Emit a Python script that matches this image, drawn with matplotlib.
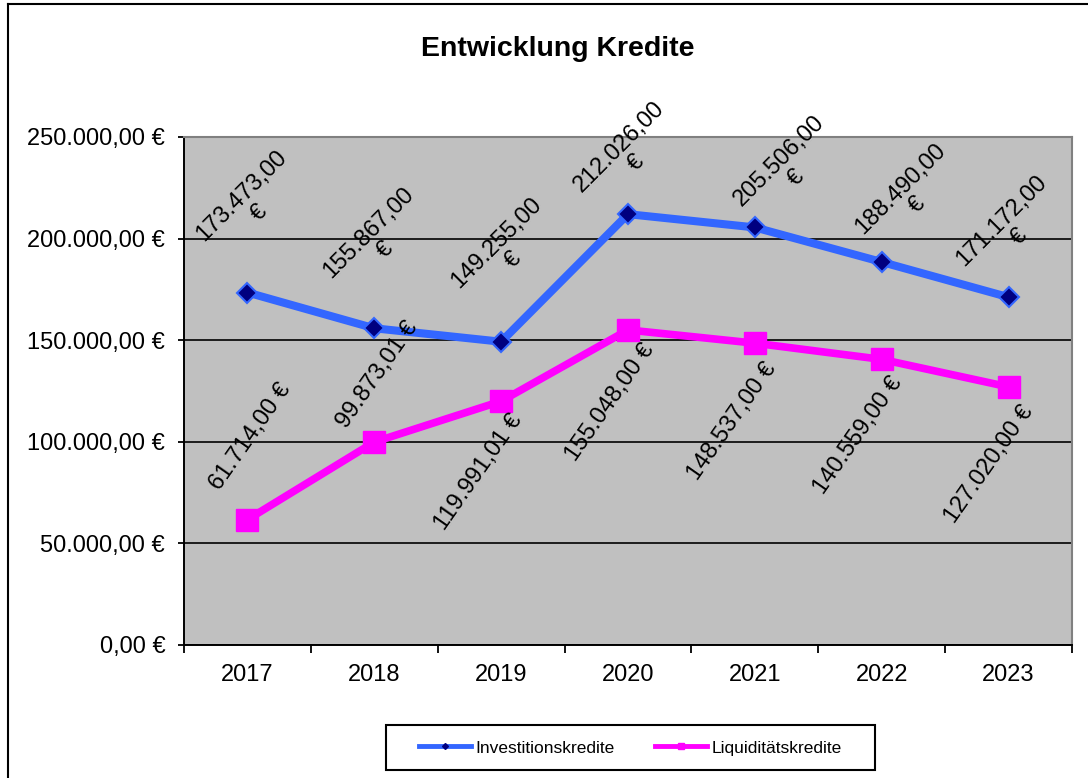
import matplotlib
matplotlib.use('Agg')
import matplotlib.pyplot as plt
from matplotlib.ticker import FuncFormatter, FixedLocator
from matplotlib.lines import Line2D
from matplotlib.patches import Rectangle

# ---- data ----
years = ['2017', '2018', '2019', '2020', '2021', '2022', '2023']
investitionskredite = [173473.00, 155867.00, 149255.00, 212026.00, 205506.00, 188490.00, 171172.00]
liquiditaetskredite = [61714.00, 99873.01, 119991.01, 155048.00, 148537.00, 140559.00, 127020.00]
series_names = ['Investitionskredite', 'Liquiditätskredite']
title = 'Entwicklung Kredite'
y_ticks = [0, 50000, 100000, 150000, 200000, 250000]

# label offsets (pixels) - style only
blue_offsets = [(3, 88), (3, 87), (4, 90), (0, 59), (33, 58), (27, 65), (2, 68)]
pink_offsets = [(3, 83), (3, 67), (-22, -71), (-18, -72), (-23, -78), (-24, -76), (-19, -77)]


def eur(v):
    s = f"{v:,.2f}"
    s = s.replace(',', 'X').replace('.', ',').replace('X', '.')
    return s + ' €'


plt.rcParams['font.family'] = ['Liberation Sans', 'DejaVu Sans']
W, H = 1088, 778
fig = plt.figure(figsize=(W / 100, H / 100), dpi=100)
fig.patch.set_facecolor('white')

ax = fig.add_axes([184 / W, 1 - 645 / H, (1072 - 184) / W, (645 - 137) / H])
ax.set_facecolor('#C0C0C0')

x = list(range(len(years)))
blue = '#3366FF'
navy = '#000080'
pink = '#FF00FF'

ax.plot(x, investitionskredite, color=blue, lw=5.8, marker='D', ms=10.5,
        mfc=navy, mec=blue, mew=1.5, zorder=3, solid_capstyle='round')
ax.plot(x, liquiditaetskredite, color=pink, lw=5.5, marker='s', ms=15.5,
        mfc=pink, mec=pink, zorder=3, solid_capstyle='round')

ax.set_xlim(-0.5, len(years) - 0.5)
ax.set_ylim(0, 250000)
ax.set_yticks(y_ticks)
ax.yaxis.set_major_formatter(FuncFormatter(lambda v, p: eur(v)))
ax.set_xticks(x)
ax.set_xticklabels(years)
ax.xaxis.set_minor_locator(FixedLocator([i - 0.5 for i in range(len(years) + 1)]))
ax.tick_params(axis='x', which='major', length=0, pad=14, labelsize=17)
ax.tick_params(axis='x', which='minor', length=5.5, width=1.3, direction='out', color='black')
ax.tick_params(axis='y', length=4.5, width=1.3, pad=9, labelsize=17, direction='out')
ax.grid(axis='y', color='black', lw=1.2)
ax.set_axisbelow(True)
for s in ['top', 'right']:
    ax.spines[s].set_color('#808080')
    ax.spines[s].set_linewidth(1.5)
for s in ['left', 'bottom']:
    ax.spines[s].set_color('black')
    ax.spines[s].set_linewidth(1.4)

# data labels
for i, v in enumerate(investitionskredite):
    num = eur(v)[:-2]
    ax.annotate(num + '\n€', xy=(i, v), xytext=blue_offsets[i], textcoords='offset pixels',
                ha='center', va='center', rotation=45, rotation_mode='anchor',
                multialignment='center', fontsize=17, zorder=4, linespacing=1.1)
for i, v in enumerate(liquiditaetskredite):
    ax.annotate(eur(v), xy=(i, v), xytext=pink_offsets[i], textcoords='offset pixels',
                ha='center', va='center', rotation=55, rotation_mode='anchor',
                fontsize=17, zorder=4)

# title
fig.text(558 / W, 1 - 56 / H, title, ha='center', va='baseline', fontsize=20.5, fontweight='bold')

# outer chart border (cropped)
fig.add_artist(Line2D([8 / W, 8 / W], [0, 1 - 4 / H], transform=fig.transFigure, color='black', lw=1.5))
fig.add_artist(Line2D([8 / W, 1], [1 - 4 / H, 1 - 4 / H], transform=fig.transFigure, color='black', lw=1.5))

# legend box
fig.add_artist(Rectangle((386 / W, 1 - 770 / H), (875 - 386) / W, 45 / H, transform=fig.transFigure,
                         facecolor='white', edgecolor='black', lw=1.5, zorder=5))
handles = [
    Line2D([], [], color=blue, lw=3.5, marker='D', ms=3, mfc=navy, mec=navy),
    Line2D([], [], color=pink, lw=3.5, marker='s', ms=5, mfc=pink, mec=pink),
]
leg = fig.legend(handles, series_names, loc='center', bbox_to_anchor=((386 + 875) / 2 / W, 1 - 748 / H),
                 ncol=2, frameon=False, fontsize=12.5, handlelength=3, handletextpad=0.25,
                 columnspacing=2.3, bbox_transform=fig.transFigure)
leg.set_zorder(6)

fig.savefig('out.png', dpi=100)
